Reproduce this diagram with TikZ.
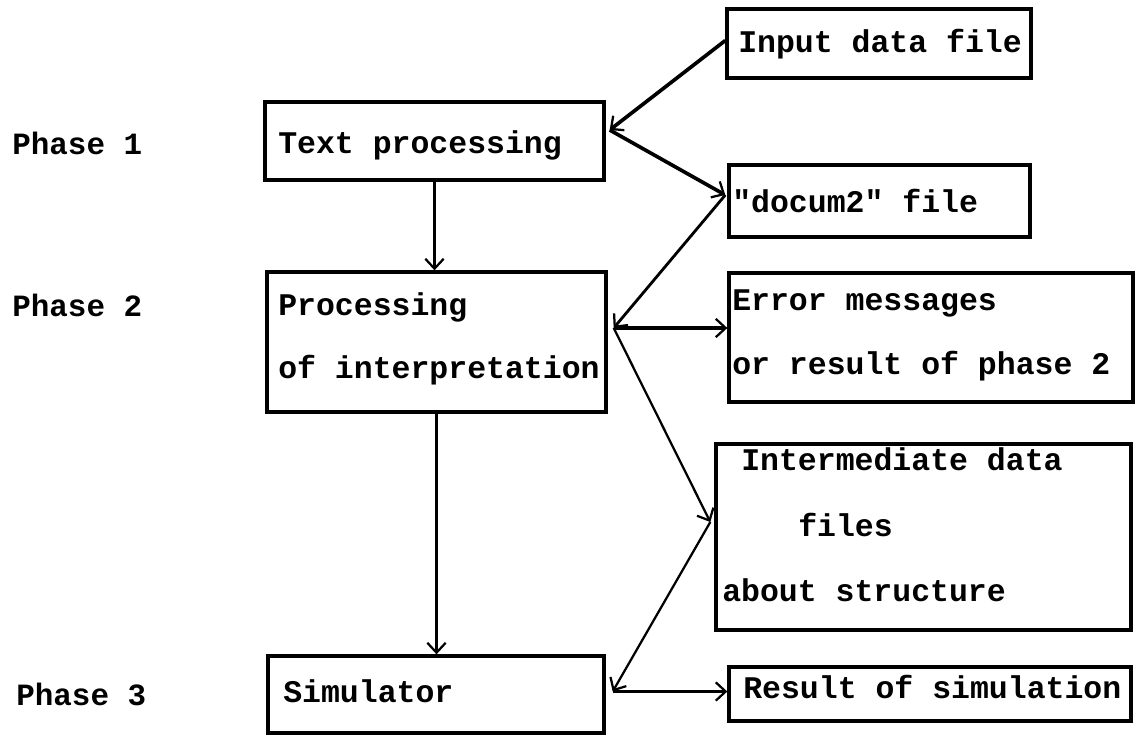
\documentclass[tikz,border=0pt]{standalone}
\usepackage{fontspec}
\setmonofont{Liberation Mono}
\usetikzlibrary{arrows.meta,calc}
\def\PXU{0.025cm}
\tikzset{
  box/.style={draw, line width=2.4pt, rectangle, inner sep=0pt},
  txt/.style={font=\ttfamily\bfseries\fontsize{22.4}{26}\selectfont, inner sep=0pt, anchor=mid west},
  phase/.style={font=\ttfamily\bfseries\fontsize{22}{26}\selectfont, inner sep=0pt, anchor=mid west},
  arr/.style={line width=#1, -{Straight Barb[length=7pt,width=13pt,line width=1.6pt]}},
  arr/.default=2pt
}
\begin{document}
\begin{tikzpicture}[x=0.025cm, y=-0.025cm]
\useasboundingbox (0,0) rectangle (1137,737);
% boxes
\node[box, minimum width=304*\PXU, minimum height=69*\PXU] (inp) at (879,43.5) {};
\node[box, minimum width=339*\PXU, minimum height=78*\PXU] (tp) at (434.5,141) {};
\node[box, minimum width=301*\PXU, minimum height=72*\PXU] (doc) at (879.5,201) {};
\node[box, minimum width=339*\PXU, minimum height=140*\PXU] (proc) at (436.5,342) {};
\node[box, minimum width=404*\PXU, minimum height=129*\PXU] (err) at (931,337.5) {};
\node[box, minimum width=415*\PXU, minimum height=186*\PXU] (inter) at (923.5,537) {};
\node[box, minimum width=336*\PXU, minimum height=77*\PXU] (sim) at (436,694.5) {};
\node[box, minimum width=402*\PXU, minimum height=54*\PXU] (res) at (930,694) {};
% texts
\node[txt] (inpt) at (738,49) {Input data file};
\node[txt] (tpt) at (278,150) {Text processing};
\node[txt] (doct) at (732,209) {"docum2" file};
\node[txt] (proct1) at (278,312) {Processing};
\node[txt] (proct2) at (278,375) {of interpretation};
\node[txt] (errt1) at (732,307) {Error messages};
\node[txt] (errt2) at (732,371) {or result of phase 2};
\node[txt] (intert1) at (741,467) {Intermediate data};
\node[txt] (intert2) at (798,533) {files};
\node[txt] (intert3) at (722,598) {about structure};
\node[txt] (simt) at (283,699) {Simulator};
\node[txt] (rest) at (743,695) {Result of simulation};
% phases
\node[phase] (ph1) at (12,151) {Phase 1};
\node[phase] (ph2) at (12,313) {Phase 2};
\node[phase] (ph3) at (16,702) {Phase 3};
% junctions
\coordinate (tpJ) at ($(tp.east)+(4,-11)$);
\coordinate (procJ) at ($(proc.east)+(6,-14)$);
\coordinate (simJ) at ($(sim.east)+(7,-3)$);
\coordinate (interJ) at ($(inter.west)+(-4,-15)$);
\coordinate (docJ) at ($(doc.west)+(-2,-6)$);
% connectors
\draw[arr=2.6pt] ($(inp.west)+(0,-3)$) -- (tpJ);
\draw[arr=2.6pt] (tpJ) -- (docJ);
\draw[arr=2pt] (tp.south) -- (tp.south |- proc.north);
\draw[arr=2pt] (docJ) -- (procJ);
\draw[arr=2.2pt] (procJ) -- (procJ -| err.west);
\draw[arr=1.6pt] (procJ) -- (interJ);
\draw[arr=1.6pt] (interJ) -- (simJ);
\draw[arr=2pt] (proc.south) -- (proc.south |- sim.north);
\draw[arr=2.2pt] (simJ) -- (simJ -| res.west);
\end{tikzpicture}
\end{document}
